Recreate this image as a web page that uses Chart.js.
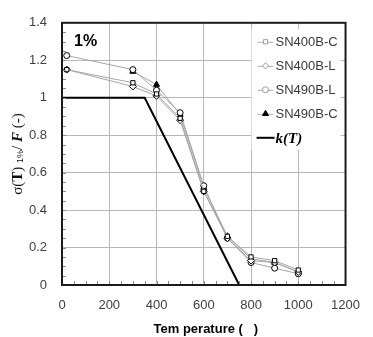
<!DOCTYPE html>
<html>
<head>
<meta charset="utf-8">
<script src="https://cdn.jsdelivr.net/npm/chart.js@4"></script>
<style>
html,body{margin:0;padding:0;background:#fff;}
#wrap{width:373px;height:337px;}
</style>
</head>
<body>
<div id="wrap"><canvas id="c" width="373" height="337"></canvas></div>
<script>
// ---- data ----
const temps = [20, 300, 400, 500, 600, 700, 800, 900, 1000];
const sn400bC = [1.15, 1.08, 1.02, 0.89, 0.50, 0.26, 0.15, 0.13, 0.08];
const sn400bL = [1.15, 1.06, 1.01, 0.88, 0.50, 0.25, 0.13, 0.12, 0.07];
const sn490bL = [1.225, 1.15, 1.04, 0.92, 0.53, 0.25, 0.12, 0.09, 0.06];
const sn490bC = [null, 1.14, 1.07, 0.91, 0.52, 0.26, 0.14, 0.12, 0.07];
const kTemps = [0, 350, 750];
const kValues = [1, 1, 0];
const seriesLabels = ['SN400B-C', 'SN400B-L', 'SN490B-L', 'SN490B-C', 'k(T)'];
const xTicks = [0, 200, 400, 600, 800, 1000, 1200];
const yTicks = [0, 0.2, 0.4, 0.6, 0.8, 1, 1.2, 1.4];

function pts(xs, ys) {
  const out = [];
  xs.forEach((x, i) => { if (ys[i] !== null) out.push({x: x, y: ys[i]}); });
  return out;
}

const LINE_GRAY = '#a6a6a6';
const series = [
  {label: seriesLabels[0], data: pts(temps, sn400bC), pointStyle: 'rect', pointRadius: 3, bg: '#fff'},
  {label: seriesLabels[1], data: pts(temps, sn400bL), pointStyle: 'rectRot', pointRadius: 3.5, bg: '#fff'},
  {label: seriesLabels[2], data: pts(temps, sn490bL), pointStyle: 'circle', pointRadius: 3, bg: '#fff'},
  {label: seriesLabels[3], data: pts(temps, sn490bC), pointStyle: 'triangle', pointRadius: 3.5, bg: '#000'}
];

const datasets = series.map(s => ({
  label: s.label,
  data: s.data,
  borderColor: LINE_GRAY,
  borderWidth: 1,
  pointStyle: s.pointStyle,
  pointRadius: s.pointRadius,
  pointBorderColor: '#000',
  pointBorderWidth: 1,
  pointBackgroundColor: s.bg,
  showLine: true,
  tension: 0,
  order: 2
}));
datasets.push({
  label: seriesLabels[4],
  data: pts(kTemps, kValues),
  borderColor: '#000',
  borderWidth: 2,
  pointRadius: 0,
  showLine: true,
  tension: 0,
  order: 1
});

const decor = {
  id: 'decor',
  afterDatasetsDraw(chart) {
    const ctx = chart.ctx;
    const a = chart.chartArea;
    const xs = chart.scales.x, ys = chart.scales.y;
    ctx.save();
    // minor ticks
    ctx.strokeStyle = '#8c8c8c';
    ctx.lineWidth = 1;
    for (let v = 50; v < 1200; v += 50) {
      const px = Math.round(xs.getPixelForValue(v)) + 0.5;
      ctx.beginPath(); ctx.moveTo(px, a.bottom); ctx.lineTo(px, a.bottom - 4); ctx.stroke();
    }
    for (let k = 1; k < 28; k++) {
      const py = Math.round(ys.getPixelForValue(k * 0.05)) + 0.5;
      ctx.beginPath(); ctx.moveTo(a.left, py); ctx.lineTo(a.left + 4, py); ctx.stroke();
    }
    // frame
    ctx.strokeStyle = '#1a1a1a';
    ctx.lineWidth = 2;
    ctx.strokeRect(a.left, a.top, a.right - a.left, a.bottom - a.top);

    // "1%" label
    ctx.fillStyle = '#000';
    ctx.font = 'bold 16px "Liberation Sans", Arial, sans-serif';
    ctx.textAlign = 'left';
    ctx.textBaseline = 'middle';
    ctx.fillText('1%', a.left + 12, a.top + 19);

    // legend
    ctx.fillStyle = '#fff';
    ctx.fillRect(a.right - 94, a.top + 6, 89, 121);
    const rowY0 = a.top + 19, rowH = 24;
    const lineL = a.right - 88, lineR = a.right - 72, mx = (lineL + lineR) / 2;
    chart.data.datasets.forEach((ds, i) => {
      const y = rowY0 + i * rowH;
      if (i < 4) {
        ctx.strokeStyle = '#b0b0b0';
        ctx.lineWidth = 1;
        ctx.beginPath(); ctx.moveTo(lineL, y + 0.5); ctx.lineTo(lineR, y + 0.5); ctx.stroke();
        const isTri = ds.pointStyle === 'triangle';
        ctx.fillStyle = isTri ? '#000' : '#fff';
        ctx.strokeStyle = isTri ? '#000' : '#9a9a9a';
        Chart.helpers.drawPoint(ctx, {pointStyle: ds.pointStyle, radius: isTri ? 3.5 : 3, rotation: 0, borderWidth: 1}, mx, y);
        ctx.fillStyle = '#3a3a3a';
        ctx.font = '13px "Liberation Sans", Arial, sans-serif';
        ctx.textAlign = 'left';
        ctx.textBaseline = 'middle';
        ctx.fillText(ds.label, lineR + 2, y + 1);
      } else {
        ctx.strokeStyle = '#000';
        ctx.lineWidth = 2;
        ctx.beginPath(); ctx.moveTo(lineL - 1, y); ctx.lineTo(lineR + 1, y); ctx.stroke();
        ctx.fillStyle = '#000';
        ctx.font = 'italic bold 15px "Liberation Serif", "Times New Roman", serif';
        ctx.textAlign = 'left';
        ctx.textBaseline = 'middle';
        ctx.fillText(ds.label, lineR + 2, y + 1);
      }
    });
    ctx.restore();
  },
  afterDraw(chart) {
    const ctx = chart.ctx;
    const a = chart.chartArea;
    ctx.save();
    // x title
    ctx.fillStyle = '#000';
    ctx.font = 'bold 13px "Liberation Sans", Arial, sans-serif';
    ctx.textAlign = 'center';
    ctx.textBaseline = 'middle';
    ctx.fillText('Tem perature (   )', (a.left + a.right) / 2 + 2, 329);
    // y title (rotated, mixed fonts)
    const segs = [
      {t: 'σ(', f: '15px "Liberation Serif", serif', dy: 0},
      {t: 'T', f: 'bold 15px "Liberation Serif", serif', dy: 0},
      {t: ') ', f: '15px "Liberation Serif", serif', dy: 0},
      {t: '1%', f: '9px "Liberation Sans", sans-serif', dy: 3},
      {t: '/ ', f: '15px "Liberation Serif", serif', dy: 0},
      {t: 'F', f: 'italic bold 15px "Liberation Serif", serif', dy: 0},
      {t: ' (-)', f: '15px "Liberation Serif", serif', dy: 0}
    ];
    let total = 0;
    segs.forEach(s => { ctx.font = s.f; s.w = ctx.measureText(s.t).width; total += s.w; });
    ctx.translate(18, 154);
    ctx.rotate(-Math.PI / 2);
    ctx.textAlign = 'left';
    ctx.textBaseline = 'middle';
    ctx.fillStyle = '#111';
    let x = -total / 2;
    segs.forEach(s => { ctx.font = s.f; ctx.fillText(s.t, x, s.dy); x += s.w; });
    ctx.restore();
  }
};

new Chart(document.getElementById('c'), {
  type: 'scatter',
  data: {datasets: datasets},
  options: {
    responsive: false,
    animation: false,
    layout: {padding: {top: 13, right: 16, left: 0, bottom: 0}},
    plugins: {legend: {display: false}, tooltip: {enabled: false}},
    scales: {
      x: {
        type: 'linear', min: 0, max: 1200,
        afterBuildTicks: s => { s.ticks = xTicks.map(v => ({value: v})); },
        afterFit: s => { s.height = 52; },
        ticks: {color: '#404040', font: {family: '"Liberation Sans", Arial, sans-serif', size: 13}, padding: 13, maxRotation: 0,
          callback: v => String(v)},
        grid: {color: '#b8b8b8', lineWidth: 1, drawTicks: false},
        border: {display: false}
      },
      y: {
        type: 'linear', min: 0, max: 1.4,
        afterBuildTicks: s => { s.ticks = yTicks.map(v => ({value: v})); },
        afterFit: s => { s.width = 62; },
        ticks: {color: '#404040', font: {family: '"Liberation Sans", Arial, sans-serif', size: 13}, padding: 15,
          callback: v => String(Math.round(v * 10) / 10)},
        grid: {color: '#b8b8b8', lineWidth: 1, drawTicks: false},
        border: {display: false}
      }
    }
  },
  plugins: [decor]
});
</script>
</body>
</html>
